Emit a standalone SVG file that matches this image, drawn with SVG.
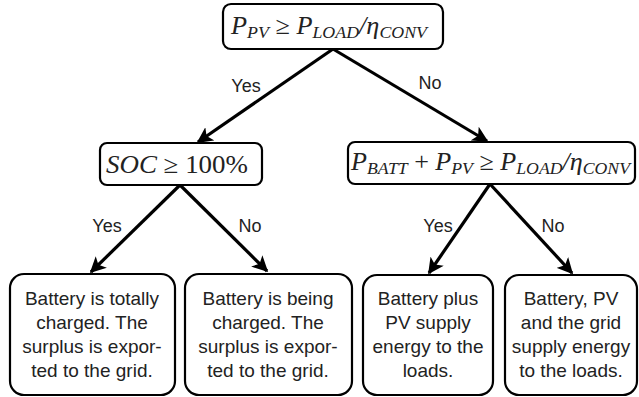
<svg xmlns="http://www.w3.org/2000/svg" width="639" height="397" viewBox="0 0 639 397">
<defs>
<style>
.box{fill:#fff;stroke:#000;stroke-width:2.2}
.math{font-family:"Liberation Serif","DejaVu Serif",serif;font-style:italic;font-size:25px;fill:#222}
.sub{font-size:17px}
.up{font-style:normal}
.lbl{font-family:"Liberation Sans",Arial,sans-serif;font-size:18px;fill:#222;text-anchor:middle}
.txt{font-family:"Liberation Sans",Arial,sans-serif;font-size:19px;fill:#222;text-anchor:middle}
.conn{stroke:#000;stroke-width:3.2;fill:none;marker-end:url(#ah)}
</style>
<marker id="ah" viewBox="0 0 10 10" refX="9" refY="5" markerWidth="5" markerHeight="5" orient="auto" markerUnits="strokeWidth">
<path d="M0,0 L10,5 L0,10 L2.5,5 z" fill="#000"/>
</marker>
</defs>
<rect width="639" height="397" fill="#fff"/>
<g id="connectors">
<line class="conn" x1="333" y1="49" x2="198" y2="142"/>
<line class="conn" x1="333" y1="49" x2="487" y2="141"/>
<line class="conn" x1="180" y1="185" x2="91" y2="272"/>
<line class="conn" x1="180" y1="185" x2="267" y2="271"/>
<line class="conn" x1="490" y1="184" x2="429" y2="273"/>
<line class="conn" x1="490" y1="184" x2="572" y2="273"/>
<text class="lbl" x="246" y="92">Yes</text>
<text class="lbl" x="430" y="89">No</text>
<text class="lbl" x="107" y="232">Yes</text>
<text class="lbl" x="250" y="232">No</text>
<text class="lbl" x="438" y="232">Yes</text>
<text class="lbl" x="553" y="232">No</text>
</g>
<g id="n_top">
<rect class="box" x="223" y="4" width="220" height="45" rx="8"/>
<text class="math" x="231" y="34" textLength="196" lengthAdjust="spacingAndGlyphs">P<tspan class="sub" dy="4">PV</tspan><tspan class="up" dy="-4"> ≥ </tspan>P<tspan class="sub" dy="4">LOAD</tspan><tspan dy="-4">/η</tspan><tspan class="sub" dy="4">CONV</tspan></text>
</g>
<g id="n_soc">
<rect class="box" x="100" y="143" width="162" height="42" rx="7"/>
<text class="math" x="106" y="173" textLength="142" lengthAdjust="spacingAndGlyphs">SOC<tspan class="up"> ≥ 100%</tspan></text>
</g>
<g id="n_batt">
<rect class="box" x="348" y="142" width="287" height="42" rx="7"/>
<text class="math" x="351" y="170" textLength="279" lengthAdjust="spacingAndGlyphs">P<tspan class="sub" dy="4">BATT</tspan><tspan class="up" dy="-4"> + </tspan>P<tspan class="sub" dy="4">PV</tspan><tspan class="up" dy="-4"> ≥ </tspan>P<tspan class="sub" dy="4">LOAD</tspan><tspan dy="-4">/η</tspan><tspan class="sub" dy="4">CONV</tspan></text>
</g>
<g id="n_1">
<rect class="box" x="10" y="274" width="165" height="121" rx="14"/>
<text class="txt" x="92" y="305">Battery is totally</text>
<text class="txt" x="92" y="329">charged. The</text>
<text class="txt" x="92" y="353">surplus is expor-</text>
<text class="txt" x="92" y="377">ted to the grid.</text>
</g>
<g id="n_2">
<rect class="box" x="185" y="274" width="167" height="121" rx="14"/>
<text class="txt" x="268" y="305">Battery is being</text>
<text class="txt" x="268" y="329">charged. The</text>
<text class="txt" x="268" y="353">surplus is expor-</text>
<text class="txt" x="268" y="377">ted to the grid.</text>
</g>
<g id="n_3">
<rect class="box" x="363" y="275" width="130" height="120" rx="14"/>
<text class="txt" x="428" y="305">Battery plus</text>
<text class="txt" x="428" y="329">PV supply</text>
<text class="txt" x="428" y="353">energy to the</text>
<text class="txt" x="428" y="377">loads.</text>
</g>
<g id="n_4">
<rect class="box" x="505" y="275" width="132" height="120" rx="14"/>
<text class="txt" x="571" y="305">Battery, PV</text>
<text class="txt" x="571" y="329">and the grid</text>
<text class="txt" x="571" y="353">supply energy</text>
<text class="txt" x="571" y="377">to the loads.</text>
</g>
</svg>
